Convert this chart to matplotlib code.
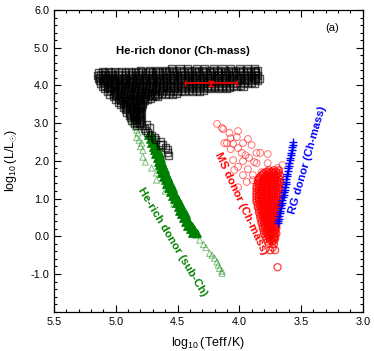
import numpy as np
import matplotlib
matplotlib.use('Agg')
import matplotlib.pyplot as plt
from matplotlib.ticker import MultipleLocator

plt.rcParams['font.family'] = ['Liberation Sans', 'DejaVu Sans']
plt.rcParams['mathtext.fontset'] = 'custom'
plt.rcParams['mathtext.rm'] = 'Liberation Sans'

# He-rich donor (Ch-mass): rows of squares, y of each row + x positions
sq_rows_y = [4.46, 4.39, 4.33, 4.26, 4.19, 4.12, 4.05, 3.98, 3.91, 3.84, 3.77, 3.70,
             3.63, 3.56, 3.49, 3.42, 3.35, 3.28, 3.21, 3.14, 3.07, 3.00, 2.93]
sq_rows_x = [
    [4.55, 4.48, 4.42, 4.35, 4.28, 4.21, 4.14, 4.07, 4.00, 3.93, 3.88],
    [4.80, 4.73, 4.66, 4.60, 4.54, 4.48, 4.42, 4.36, 4.30, 4.24, 4.18, 4.12, 4.06, 4.00, 3.94, 3.88, 3.85],
    [5.14, 5.09, 5.04, 4.98, 4.92, 4.87, 4.82, 4.76, 4.70, 4.65, 4.59, 4.53, 4.47, 4.41, 4.35, 4.29,
     4.23, 4.17, 4.11, 4.05, 3.99, 3.93, 3.87],
    [5.15, 5.11, 5.06, 5.01, 4.95, 4.89, 4.84, 4.79, 4.73, 4.68, 4.62, 4.56, 4.50, 4.44, 4.38, 4.32,
     4.26, 4.20, 4.14, 4.08, 4.02, 3.96, 3.90, 3.85],
    [5.14, 5.08, 5.03, 4.98, 4.92, 4.87, 4.81, 4.76, 4.70, 4.65, 4.59, 4.53, 4.47, 4.41, 4.35, 4.29,
     4.23, 4.17, 4.11, 4.05, 3.99, 3.93, 3.87, 3.84],
    [5.13, 5.10, 5.05, 5.00, 4.95, 4.89, 4.84, 4.78, 4.73, 4.67, 4.62, 4.56, 4.50, 4.44, 4.38, 4.32,
     4.26, 4.20, 4.14, 4.08, 4.02, 3.96, 3.90, 3.85],
    [5.12, 5.07, 5.02, 4.97, 4.92, 4.86, 4.81, 4.75, 4.70, 4.64, 4.59, 4.53, 4.47, 4.41, 4.35, 4.29,
     4.23, 4.17, 4.11, 4.05, 3.99, 3.93, 3.88],
    [5.11, 5.06, 5.00, 4.95, 4.89, 4.84, 4.78, 4.73, 4.67, 4.62, 4.56, 4.50, 4.44, 4.38, 4.32, 4.26,
     4.20, 4.14, 4.08, 4.02, 3.97],
    [5.09, 5.04, 4.98, 4.93, 4.87, 4.82, 4.76, 4.70, 4.65, 4.59, 4.53, 4.47, 4.41, 4.35, 4.29, 4.23,
     4.17, 4.10],
    [5.07, 5.01, 4.96, 4.90, 4.85, 4.79, 4.74, 4.68, 4.62, 4.56, 4.50, 4.44, 4.38, 4.32],
    [5.05, 4.99, 4.94, 4.88, 4.83, 4.77, 4.72, 4.66, 4.60, 4.54],
    [5.02, 4.97, 4.92, 4.86, 4.81, 4.76, 4.70, 4.66],
    [5.00, 4.95, 4.90, 4.85, 4.80, 4.74],
    [4.98, 4.93, 4.88, 4.83, 4.78],
    [4.96, 4.91, 4.86, 4.81, 4.78],
    [4.94, 4.89, 4.84, 4.80],
    [4.92, 4.87, 4.83, 4.80],
    [4.91, 4.86, 4.82, 4.79],
    [4.89, 4.85, 4.81],
    [4.88, 4.84, 4.80],
    [4.87, 4.83, 4.79],
    [4.85, 4.81],
    [4.83, 4.79],
]
# interior of the same cloud (in between the rows above)
sq_fill_y = [4.36, 4.29, 4.22, 4.15, 4.08, 4.01, 3.94, 3.87, 3.80, 3.73, 3.66, 3.59, 3.52, 3.45,
             3.38, 3.31, 3.24, 3.17, 3.10, 3.03]
sq_fill_x = [
    [5.11, 5.06, 5.01, 4.95, 4.90, 4.84, 4.79, 4.73, 4.68, 4.62, 4.57, 4.51, 4.45, 4.39, 4.33, 4.27,
     4.21, 4.15, 4.09, 4.03, 3.97, 3.91, 3.87],
    [5.12, 5.08, 5.03, 4.98, 4.92, 4.87, 4.81, 4.76, 4.70, 4.65, 4.59, 4.53, 4.47, 4.41, 4.35, 4.29,
     4.23, 4.17, 4.11, 4.05, 3.99, 3.93, 3.87],
    [5.13, 5.09, 5.04, 4.99, 4.93, 4.88, 4.82, 4.77, 4.71, 4.66, 4.60, 4.54, 4.48, 4.42, 4.36, 4.30,
     4.24, 4.18, 4.12, 4.06, 4.00, 3.94, 3.88],
    [5.11, 5.07, 5.02, 4.97, 4.92, 4.86, 4.81, 4.75, 4.70, 4.64, 4.59, 4.53, 4.47, 4.41, 4.35, 4.29,
     4.23, 4.17, 4.11, 4.05, 3.99, 3.93, 3.87],
    [5.10, 5.05, 5.00, 4.94, 4.89, 4.83, 4.78, 4.72, 4.67, 4.61, 4.56, 4.50, 4.44, 4.38, 4.32, 4.26,
     4.20, 4.14, 4.08, 4.02, 3.96, 3.90],
    [5.09, 5.03, 4.98, 4.92, 4.87, 4.81, 4.76, 4.70, 4.65, 4.59, 4.53, 4.47, 4.41, 4.35, 4.29, 4.23,
     4.17, 4.11, 4.05, 3.99],
    [5.07, 5.01, 4.96, 4.90, 4.85, 4.79, 4.73, 4.68, 4.62, 4.56, 4.50, 4.44, 4.38, 4.32, 4.26, 4.20,
     4.14, 4.08],
    [5.04, 4.99, 4.93, 4.88, 4.82, 4.77, 4.71, 4.65, 4.59, 4.53, 4.47, 4.41, 4.35, 4.29],
    [5.02, 4.97, 4.91, 4.86, 4.80, 4.75, 4.69, 4.63, 4.57, 4.51],
    [5.00, 4.95, 4.89, 4.84, 4.79, 4.73, 4.68],
    [4.98, 4.93, 4.87, 4.82, 4.77, 4.72],
    [4.96, 4.91, 4.86, 4.81, 4.77],
    [4.94, 4.89, 4.84, 4.80],
    [4.92, 4.87, 4.82, 4.79],
    [4.91, 4.86, 4.82],
    [4.89, 4.85, 4.81],
    [4.88, 4.83, 4.80],
    [4.86, 4.82],
    [4.85, 4.81],
    [4.83, 4.80],
]
sq_tail_x = [4.77, 4.76, 4.74, 4.75, 4.73, 4.71, 4.69, 4.68, 4.64, 4.64, 4.62, 4.60, 4.58, 4.58, 4.57]
sq_tail_y = [2.86, 2.80, 2.74, 2.95, 2.88, 2.68, 2.62, 2.56, 2.50, 2.42, 2.44, 2.36, 2.29, 2.22, 2.15]

# mean point with error bars
err_x, err_y, err_dx, err_dy = 4.23, 4.06, 0.21, 0.07

# He-rich donor (sub-Ch): dense filled band, pairs of x per row
band_y = [2.68, 2.58, 2.48, 2.38, 2.28, 2.18, 2.08, 1.98, 1.88, 1.78, 1.68, 1.58, 1.48, 1.38,
          1.28, 1.18, 1.08, 0.98, 0.88, 0.78, 0.68, 0.58, 0.48, 0.38, 0.28, 0.18, 0.08]
band_xl = [4.735, 4.725, 4.715, 4.700, 4.690, 4.680, 4.670, 4.660, 4.650, 4.640, 4.630, 4.615, 4.600,
           4.590, 4.575, 4.560, 4.545, 4.530, 4.515, 4.500, 4.485, 4.470, 4.455, 4.440, 4.420, 4.400, 4.380]
band_xr = [4.705, 4.695, 4.680, 4.665, 4.655, 4.645, 4.635, 4.625, 4.615, 4.605, 4.595, 4.580, 4.565,
           4.555, 4.540, 4.525, 4.510, 4.495, 4.480, 4.465, 4.450, 4.435, 4.420, 4.405, 4.385, 4.365, 4.345]
tri_x = [4.87, 4.86, 4.84, 4.83, 4.82, 4.83, 4.81, 4.79, 4.80, 4.78, 4.78, 4.76, 4.71, 4.67, 4.67,
         4.60, 4.53, 4.46, 4.42, 4.38, 4.35, 4.32, 4.29, 4.27, 4.24, 4.22, 4.20, 4.18, 4.17, 4.16, 4.14, 4.14]
tri_y = [3.08, 3.00, 2.90, 2.82, 2.74, 2.62, 2.55, 2.47, 2.38, 2.28, 2.10, 1.97, 1.81, 1.68, 1.49,
         1.20, 0.85, 0.56, 0.40, 0.11, 0.02, -0.10, -0.22, -0.30, -0.45, -0.50, -0.58, -0.68, -0.76,
         -0.85, -0.92, -0.98]

# MS donor (Ch-mass): sparse circles
ms_x = [4.18, 4.13, 4.08, 4.01, 4.12, 4.05, 3.97, 4.07, 4.01, 3.90, 3.83, 3.77, 3.77, 4.05, 3.97,
        4.01, 3.93, 3.86, 3.97, 3.89, 4.01, 3.94, 3.89, 3.69, 3.65, 3.82, 3.75, 4.07, 3.93, 3.86,
        3.98, 4.14, 4.02, 4.10, 4.04, 3.88, 3.95, 3.92]
ms_y = [2.98, 2.84, 2.74, 2.79, 2.47, 2.45, 2.47, 2.31, 2.34, 2.42, 2.21, 2.18, 1.94, 2.02, 1.99,
        1.84, 1.78, 1.94, 1.62, 1.62, 1.30, 1.44, 1.49, 1.81, 1.89, 1.70, 1.68, 2.60, 2.58, 2.21,
        2.21, 2.87, 2.63, 2.47, 1.76, 1.97, 2.15, 2.08]
# dense part of the MS cloud, rows
ms_rows_y = [1.75, 1.68, 1.61, 1.54, 1.47, 1.40, 1.33, 1.26, 1.19, 1.12, 1.05, 0.98, 0.91, 0.84,
             0.77, 0.70, 0.63, 0.56, 0.49, 0.42, 0.35, 0.28, 0.21, 0.14, 0.07, 0.00, -0.07, -0.14,
             -0.21, -0.30, -0.37, -0.82]
ms_rows_x = [
    [3.76, 3.72, 3.68], [3.80, 3.76, 3.72, 3.68], [3.82, 3.78, 3.74, 3.70, 3.67],
    [3.84, 3.80, 3.76, 3.72, 3.68], [3.85, 3.81, 3.77, 3.73, 3.69],
    [3.85, 3.81, 3.77, 3.73, 3.69, 3.66], [3.86, 3.82, 3.78, 3.74, 3.70],
    [3.86, 3.82, 3.78, 3.74, 3.70, 3.67], [3.86, 3.82, 3.78, 3.74, 3.70],
    [3.86, 3.82, 3.78, 3.74, 3.70, 3.67], [3.86, 3.82, 3.78, 3.74, 3.70],
    [3.86, 3.82, 3.78, 3.74, 3.70, 3.67], [3.86, 3.82, 3.78, 3.74, 3.70],
    [3.85, 3.81, 3.77, 3.73, 3.69, 3.67], [3.85, 3.81, 3.77, 3.73, 3.69],
    [3.84, 3.80, 3.76, 3.72, 3.69], [3.84, 3.80, 3.76, 3.72, 3.69], [3.83, 3.79, 3.75, 3.71],
    [3.83, 3.79, 3.75, 3.71, 3.69], [3.82, 3.78, 3.74, 3.70], [3.82, 3.78, 3.74, 3.70],
    [3.81, 3.77, 3.73, 3.70], [3.81, 3.77, 3.73, 3.70], [3.80, 3.76, 3.72],
    [3.80, 3.76, 3.72, 3.70], [3.79, 3.75, 3.71], [3.78, 3.74, 3.71], [3.77, 3.73],
    [3.76, 3.72], [3.73], [3.75, 3.71], [3.69],
]
ms_fill_y = [1.71, 1.64, 1.57, 1.50, 1.43, 1.36, 1.29, 1.22, 1.15, 1.08, 1.01, 0.94, 0.87, 0.80,
             0.73, 0.66, 0.59, 0.52, 0.45, 0.38, 0.31, 0.24, 0.17, 0.10, 0.03, -0.04, -0.11]
ms_fill_x = [
    [3.78, 3.74, 3.70], [3.81, 3.77, 3.73, 3.69], [3.83, 3.79, 3.75, 3.71],
    [3.84, 3.79, 3.75, 3.71, 3.67], [3.83, 3.79, 3.75, 3.71, 3.67],
    [3.84, 3.80, 3.76, 3.72, 3.68], [3.84, 3.80, 3.76, 3.72, 3.68],
    [3.84, 3.80, 3.76, 3.72, 3.68], [3.84, 3.80, 3.76, 3.72, 3.68],
    [3.84, 3.80, 3.76, 3.72, 3.68], [3.84, 3.80, 3.76, 3.72, 3.68],
    [3.84, 3.80, 3.76, 3.72, 3.68], [3.83, 3.79, 3.75, 3.71, 3.68],
    [3.83, 3.79, 3.75, 3.71], [3.82, 3.78, 3.74, 3.70], [3.82, 3.78, 3.74, 3.70],
    [3.81, 3.77, 3.73, 3.70], [3.81, 3.77, 3.73, 3.70], [3.80, 3.76, 3.72], [3.80, 3.76, 3.72],
    [3.79, 3.75, 3.71], [3.79, 3.75, 3.71], [3.78, 3.74, 3.71], [3.78, 3.74, 3.71],
    [3.77, 3.73], [3.76, 3.72], [3.75, 3.72],
]

# RG donor (Ch-mass): narrow band of pluses
rg_y = [2.50, 2.43, 2.36, 2.29, 2.22, 2.15, 2.08, 2.01, 1.94, 1.87, 1.80, 1.73, 1.66, 1.59, 1.52,
        1.45, 1.38, 1.31, 1.24, 1.17, 1.10, 1.03, 0.96, 0.89, 0.82, 0.75, 0.68, 0.61, 0.54, 0.47,
        0.40, 0.35]
rg_x = [3.565, 3.569, 3.572, 3.576, 3.580, 3.584, 3.588, 3.592, 3.596, 3.600, 3.604, 3.607, 3.611,
        3.614, 3.618, 3.621, 3.625, 3.629, 3.633, 3.637, 3.641, 3.645, 3.650, 3.654, 3.659, 3.663,
        3.667, 3.671, 3.675, 3.680, 3.685, 3.690]


def flatten(rows_y, rows_x):
    xs = [x for row in rows_x for x in row]
    ys = [y for y, row in zip(rows_y, rows_x) for _ in row]
    return xs, ys


sq_x, sq_y = flatten(sq_rows_y, sq_rows_x)
sqf_x, sqf_y = flatten(sq_fill_y, sq_fill_x)
msd_x, msd_y = flatten(ms_rows_y, ms_rows_x)
msf_x, msf_y = flatten(ms_fill_y, ms_fill_x)

fig = plt.figure(figsize=(3.74, 3.51), dpi=100)
ax = fig.add_axes([0.1444, 0.112, 0.8256, 0.8595])

ax.scatter(tri_x, tri_y, s=20, marker='^', facecolors='none', edgecolors='green',
           linewidths=0.7, alpha=0.5, zorder=2)
ax.scatter(band_xl + band_xr, band_y + band_y, s=30, marker='^', color='green',
           linewidths=0.8, zorder=2)
ax.scatter(sq_x + sq_tail_x, sq_y + sq_tail_y, s=26, marker='s', facecolors='none',
           edgecolors='black', linewidths=1.0, alpha=0.65, zorder=3)
ax.scatter(sqf_x, sqf_y, s=26, marker='s', facecolors='none', edgecolors='black',
           linewidths=1.0, alpha=0.65, zorder=3)
ax.scatter(ms_x, ms_y, s=24, marker='o', facecolors='none', edgecolors='red',
           linewidths=0.7, alpha=0.55, zorder=3)
ax.scatter(msd_x + msf_x, msd_y + msf_y, s=26, marker='o', facecolors='none', edgecolors='red',
           linewidths=0.9, alpha=0.75, zorder=3)
ax.scatter(rg_x, rg_y, s=32, marker='+', color='blue', linewidths=1.0, zorder=4)
ax.errorbar(err_x, err_y, xerr=err_dx, yerr=err_dy, color='red', lw=1.2,
            capsize=2, capthick=1.0, zorder=5)

ax.set_xlim(5.5, 3.0)
ax.set_ylim(-2.0, 6.0)
ax.set_xticks([5.5, 5.0, 4.5, 4.0, 3.5, 3.0])
ax.set_xticklabels(['5.5', '5.0', '4.5', '4.0', '3.5', '3.0'])
ax.set_yticks([-1, 0, 1, 2, 3, 4, 5, 6])
ax.set_yticklabels(['-1.0', '0.0', '1.0', '2.0', '3.0', '4.0', '5.0', '6.0'])
ax.xaxis.set_minor_locator(MultipleLocator(0.1))
ax.yaxis.set_minor_locator(MultipleLocator(0.2))
ax.tick_params(which='both', direction='in', top=True, right=True, labelsize=7.8, width=0.8)
ax.tick_params(which='major', length=5)
ax.tick_params(which='minor', length=2.5)
for sp in ax.spines.values():
    sp.set_linewidth(0.9)

ax.set_xlabel(r'log$_{10}$$\,$(Teff$\,$/K)', fontsize=9)
ax.set_ylabel(r'log$_{10}$$\,$(L/L$_{\odot}$)', fontsize=9)
ax.xaxis.set_label_coords(0.5, -0.078)
ax.yaxis.set_label_coords(-0.113, 0.5)

ax.text(4.455, 4.92, 'He-rich donor (Ch-mass)', fontsize=8.2, fontweight='bold',
        ha='center', va='center')
ax.text(3.25, 5.52, '(a)', fontsize=8, ha='center', va='center')
ax.text(4.545, -0.15, 'He-rich donor (sub-Ch)', fontsize=8.2, fontweight='bold',
        color='green', rotation=-59, ha='center', va='center', rotation_mode='anchor')
ax.text(3.986, 0.88, 'MS donor (Ch-mass)', fontsize=8.2, fontweight='bold',
        color='red', rotation=-65, ha='center', va='center', rotation_mode='anchor')
ax.text(3.443, 2.02, 'RG donor (Ch-mass)', fontsize=8.2, fontweight='bold',
        color='blue', rotation=74, ha='center', va='center', rotation_mode='anchor')

fig.savefig('out.png', dpi=100)
